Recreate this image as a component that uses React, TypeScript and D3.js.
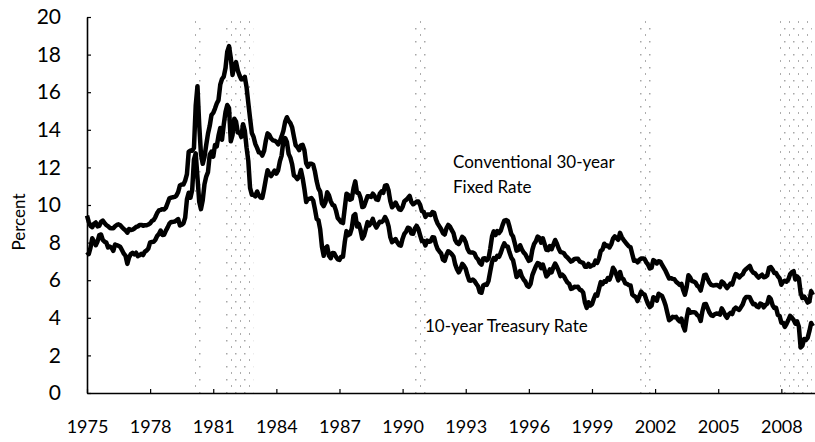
// App.tsx
import React, { useEffect, useRef } from "react";
import * as d3 from "d3";

// monthly averages, Jan 1975 .. Jul 2009
const startYear = 1975;

const mortgage30 = [
  9.43, 9.10, 8.89, 8.82, 9.00, 9.07, 8.86, 8.89, 9.10, 9.17, 9.04, 8.94,
  8.87, 8.78, 8.76, 8.76, 8.87, 8.94, 8.97, 8.92, 8.82, 8.72, 8.65, 8.53,
  8.72, 8.67, 8.69, 8.75, 8.83, 8.86, 8.94, 8.94, 8.90, 8.92, 8.92, 8.96,
  9.02, 9.15, 9.20, 9.36, 9.57, 9.71, 9.74, 9.78, 9.76, 9.86, 10.11, 10.35,
  10.39, 10.41, 10.43, 10.50, 10.69, 11.04, 11.09, 11.09, 11.30, 11.64, 12.83, 12.90,
  12.88, 13.04, 15.28, 16.32, 14.26, 12.71, 12.19, 12.56, 13.20, 13.79, 14.21, 14.79,
  14.90, 15.13, 15.40, 15.58, 16.40, 16.70, 16.83, 17.29, 18.16, 18.45, 17.83, 16.92,
  17.40, 17.60, 17.16, 16.89, 16.68, 16.70, 16.82, 16.27, 15.43, 14.61, 13.83, 13.62,
  13.25, 13.04, 12.80, 12.78, 12.63, 12.87, 13.42, 13.81, 13.73, 13.54, 13.44, 13.42,
  13.37, 13.23, 13.39, 13.65, 13.94, 14.42, 14.67, 14.47, 14.35, 14.13, 13.64, 13.18,
  13.08, 12.92, 13.17, 13.20, 12.91, 12.22, 12.03, 12.19, 12.19, 12.14, 11.78, 11.26,
  10.88, 10.71, 10.08, 9.94, 10.14, 10.68, 10.51, 10.20, 10.01, 9.97, 9.70, 9.31,
  9.20, 9.08, 9.04, 9.83, 10.60, 10.54, 10.28, 10.33, 10.89, 11.26, 10.65, 10.64,
  10.38, 9.89, 9.93, 10.20, 10.46, 10.46, 10.43, 10.60, 10.48, 10.30, 10.27, 10.61,
  10.73, 10.65, 11.03, 11.05, 10.77, 10.20, 9.88, 9.99, 10.13, 9.95, 9.77, 9.74,
  9.90, 10.20, 10.27, 10.37, 10.48, 10.16, 10.04, 10.10, 10.18, 10.18, 10.01, 9.67,
  9.64, 9.37, 9.50, 9.49, 9.47, 9.62, 9.58, 9.24, 9.01, 8.86, 8.71, 8.50,
  8.43, 8.76, 8.94, 8.85, 8.67, 8.51, 8.13, 7.98, 7.92, 8.09, 8.31, 8.22,
  8.02, 7.68, 7.50, 7.47, 7.47, 7.42, 7.21, 7.11, 6.92, 6.83, 7.16, 7.17,
  7.06, 7.15, 7.68, 8.32, 8.60, 8.40, 8.61, 8.51, 8.64, 8.93, 9.17, 9.20,
  9.15, 8.83, 8.46, 8.32, 7.96, 7.57, 7.61, 7.86, 7.64, 7.48, 7.38, 7.20,
  7.03, 7.08, 7.62, 7.93, 8.07, 8.32, 8.25, 8.00, 8.23, 7.92, 7.62, 7.60,
  7.82, 7.65, 7.90, 8.14, 7.94, 7.69, 7.50, 7.48, 7.43, 7.29, 7.21, 7.10,
  6.99, 7.04, 7.13, 7.14, 7.14, 7.00, 6.95, 6.92, 6.72, 6.71, 6.87, 6.72,
  6.79, 6.81, 7.04, 6.92, 7.15, 7.55, 7.63, 7.94, 7.82, 7.85, 7.74, 7.91,
  8.21, 8.33, 8.24, 8.15, 8.52, 8.29, 8.15, 8.03, 7.91, 7.80, 7.75, 7.38,
  7.03, 7.05, 6.95, 7.08, 7.15, 7.16, 7.13, 6.95, 6.82, 6.62, 6.66, 7.07,
  7.00, 6.89, 7.01, 6.99, 6.81, 6.65, 6.49, 6.29, 6.09, 6.11, 6.07, 6.05,
  5.92, 5.84, 5.75, 5.81, 5.48, 5.23, 5.63, 6.26, 6.15, 5.95, 5.93, 5.88,
  5.71, 5.64, 5.45, 5.83, 6.27, 6.29, 6.06, 5.87, 5.75, 5.72, 5.73, 5.75,
  5.71, 5.63, 5.93, 5.86, 5.72, 5.58, 5.70, 5.82, 5.77, 6.07, 6.33, 6.27,
  6.15, 6.25, 6.32, 6.51, 6.60, 6.68, 6.76, 6.52, 6.40, 6.36, 6.24, 6.14,
  6.22, 6.29, 6.16, 6.18, 6.26, 6.66, 6.70, 6.57, 6.38, 6.38, 6.21, 6.10,
  5.76, 5.92, 5.97, 5.92, 6.04, 6.32, 6.43, 6.48, 6.04, 6.20, 6.09, 5.33,
  5.05, 5.13, 5.00, 4.81, 4.86, 5.42, 5.22
];

const treasury10 = [
  7.50, 7.39, 7.73, 8.23, 8.06, 7.86, 8.06, 8.40, 8.43, 8.14, 8.05, 8.00,
  7.74, 7.79, 7.73, 7.56, 7.90, 7.86, 7.83, 7.77, 7.59, 7.41, 7.29, 6.87,
  7.21, 7.39, 7.46, 7.37, 7.46, 7.28, 7.33, 7.40, 7.34, 7.52, 7.58, 7.69,
  8.01, 8.03, 8.04, 8.15, 8.35, 8.46, 8.64, 8.41, 8.42, 8.64, 8.81, 9.01,
  9.10, 9.10, 9.12, 9.18, 9.25, 8.91, 8.95, 9.03, 9.33, 10.30, 10.65, 10.39,
  10.80, 12.41, 12.75, 11.47, 10.18, 9.78, 10.25, 11.10, 11.51, 11.75, 12.68, 12.84,
  12.57, 13.19, 13.12, 13.68, 14.10, 13.47, 14.28, 14.94, 15.32, 15.15, 13.39, 13.72,
  14.59, 14.43, 13.86, 13.87, 13.62, 14.30, 13.95, 13.06, 12.34, 10.91, 10.55, 10.54,
  10.46, 10.72, 10.51, 10.40, 10.38, 10.85, 11.38, 11.85, 11.65, 11.54, 11.69, 11.83,
  11.67, 11.84, 12.32, 12.63, 13.41, 13.56, 13.36, 12.72, 12.52, 12.16, 11.57, 11.50,
  11.38, 11.51, 11.86, 11.43, 10.85, 10.16, 10.31, 10.33, 10.37, 10.24, 9.78, 9.26,
  9.19, 8.70, 7.78, 7.30, 7.71, 7.80, 7.30, 7.17, 7.45, 7.43, 7.25, 7.11,
  7.08, 7.25, 7.25, 8.02, 8.61, 8.40, 8.45, 8.76, 9.42, 9.52, 8.86, 8.99,
  8.67, 8.21, 8.37, 8.72, 9.09, 8.92, 9.06, 9.26, 8.98, 8.80, 8.96, 9.11,
  9.09, 9.17, 9.36, 9.18, 8.86, 8.28, 8.02, 8.11, 8.19, 8.01, 7.87, 7.84,
  8.21, 8.47, 8.59, 8.79, 8.76, 8.48, 8.47, 8.75, 8.89, 8.72, 8.39, 8.08,
  8.09, 7.85, 8.11, 8.04, 8.07, 8.28, 8.27, 7.90, 7.65, 7.53, 7.42, 7.09,
  7.03, 7.34, 7.54, 7.48, 7.39, 7.26, 6.84, 6.59, 6.42, 6.59, 6.87, 6.77,
  6.60, 6.26, 5.98, 5.97, 6.04, 5.96, 5.81, 5.68, 5.36, 5.33, 5.72, 5.77,
  5.75, 5.97, 6.48, 6.97, 7.18, 7.10, 7.30, 7.24, 7.46, 7.74, 7.96, 7.81,
  7.78, 7.47, 7.20, 7.06, 6.63, 6.17, 6.28, 6.49, 6.20, 6.04, 5.93, 5.71,
  5.65, 5.81, 6.27, 6.51, 6.74, 6.91, 6.87, 6.64, 6.83, 6.53, 6.20, 6.30,
  6.58, 6.42, 6.69, 6.89, 6.71, 6.49, 6.22, 6.30, 6.21, 6.03, 5.88, 5.81,
  5.54, 5.57, 5.65, 5.64, 5.65, 5.50, 5.46, 5.34, 4.81, 4.53, 4.83, 4.65,
  4.72, 5.00, 5.23, 5.18, 5.54, 5.90, 5.79, 5.94, 5.92, 6.11, 6.03, 6.28,
  6.66, 6.52, 6.26, 5.99, 6.44, 6.10, 6.05, 5.83, 5.80, 5.74, 5.72, 5.24,
  5.16, 5.10, 4.89, 5.14, 5.39, 5.28, 5.24, 4.97, 4.73, 4.57, 4.65, 5.09,
  5.04, 4.91, 5.28, 5.21, 5.16, 4.93, 4.65, 4.26, 3.87, 3.94, 4.05, 4.03,
  4.05, 3.90, 3.81, 3.96, 3.57, 3.33, 3.98, 4.45, 4.27, 4.29, 4.30, 4.27,
  4.15, 4.08, 3.83, 4.35, 4.72, 4.73, 4.50, 4.28, 4.13, 4.10, 4.19, 4.23,
  4.22, 4.17, 4.50, 4.34, 4.14, 4.00, 4.18, 4.26, 4.20, 4.46, 4.54, 4.47,
  4.42, 4.57, 4.72, 4.99, 5.11, 5.11, 5.09, 4.88, 4.72, 4.73, 4.60, 4.56,
  4.76, 4.72, 4.56, 4.69, 4.75, 5.10, 5.00, 4.67, 4.52, 4.53, 4.15, 4.10,
  3.74, 3.74, 3.51, 3.68, 3.88, 4.10, 4.01, 3.89, 3.69, 3.81, 3.53, 2.42,
  2.52, 2.87, 2.82, 2.93, 3.29, 3.72, 3.56
];

// NBER recessions, [start, end] as year + month fraction
const recessions = [
  [1980.0, 1980.5],
  [1981.5, 1982.9],
  [1990.5, 1991.2],
  [2001.2, 2001.9],
  [2007.9, 2009.45]
];

const xTicks = [1975, 1978, 1981, 1984, 1987, 1990, 1993, 1996, 1999, 2002, 2005, 2008];
const yTicks = [0, 2, 4, 6, 8, 10, 12, 14, 16, 18, 20];

const W = 815;
const H = 442;
const FONT = "Lato, 'Open Sans', sans-serif";

const App = () => {
  const ref = useRef(null);

  useEffect(() => {
    const svg = d3.select(ref.current);
    svg.selectAll("*").remove();

    const x = d3.scaleLinear().domain([1975, 2009.6]).range([87, 815]);
    const y = d3.scaleLinear().domain([0, 20]).range([393, 17]);

    // sparse speckled fill for recession bars (scanned grey)
    const defs = svg.append("defs");
    const pat = defs
      .append("pattern")
      .attr("id", "speckle")
      .attr("patternUnits", "userSpaceOnUse")
      .attr("width", 9)
      .attr("height", 13);
    pat.append("rect").attr("x", 1).attr("y", 2).attr("width", 1.5).attr("height", 1.5).attr("fill", "#222");
    pat.append("rect").attr("x", 6).attr("y", 8).attr("width", 1).attr("height", 2).attr("fill", "#333");

    svg
      .append("g")
      .selectAll("rect")
      .data(recessions)
      .enter()
      .append("rect")
      .attr("x", d => x(d[0]))
      .attr("y", y(20))
      .attr("width", d => x(d[1]) - x(d[0]))
      .attr("height", y(0) - y(20))
      .attr("fill", "url(#speckle)")
      .attr("opacity", 0.4);

    // Y axis
    const yAxis = svg
      .append("g")
      .attr("transform", `translate(${x(1975)},0)`)
      .call(
        d3.axisLeft(y).tickValues(yTicks).tickSize(-4).tickSizeOuter(0).tickPadding(26).tickFormat(d3.format("d"))
      );
    yAxis.select(".domain").attr("stroke", "#000").attr("stroke-width", 1.6);
    yAxis.selectAll("line").attr("stroke", "#000").attr("stroke-width", 1.2);
    yAxis
      .selectAll("text")
      .style("font-family", FONT)
      .style("font-size", "21px")
      .attr("fill", "#000");

    // X axis
    const xAxis = svg
      .append("g")
      .attr("transform", `translate(0,${y(0)})`)
      .call(
        d3.axisBottom(x).tickValues(xTicks).tickSize(-4).tickSizeOuter(0).tickPadding(27).tickFormat(d3.format("d"))
      );
    xAxis.select(".domain").attr("stroke", "#000").attr("stroke-width", 1.6);
    xAxis.selectAll("line").attr("stroke", "#000").attr("stroke-width", 1.2);
    xAxis
      .selectAll("text")
      .style("font-family", FONT)
      .style("font-size", "18px")
      .attr("fill", "#000");

    // both rate lines
    const line = d3
      .line()
      .x((d, i) => x(startYear + i / 12))
      .y(d => y(d))
      .curve(d3.curveLinear);

    [mortgage30, treasury10].forEach(series => {
      svg
        .append("path")
        .datum(series)
        .attr("d", line)
        .attr("fill", "none")
        .attr("stroke", "#000")
        .attr("stroke-width", 4.5)
        .attr("stroke-linejoin", "round");
    });

    // y-axis title
    svg
      .append("text")
      .attr("transform", `translate(25,222) rotate(-90)`)
      .attr("text-anchor", "middle")
      .style("font-family", FONT)
      .style("font-size", "17px")
      .text("Percent");

    // series labels
    const labels = svg
      .append("g")
      .style("font-family", FONT)
      .style("font-size", "17px")
      .attr("fill", "#000");
    labels.append("text").attr("x", 453).attr("y", 168).text("Conventional 30-year");
    labels.append("text").attr("x", 453).attr("y", 193).text("Fixed Rate");
    labels.append("text").attr("x", 425).attr("y", 332).text("10-year Treasury Rate");
  }, []);

  return (
    <svg
      ref={ref}
      width={W}
      height={H}
      style={{ position: "absolute", left: 0, top: 0, background: "#fff" }}
    ></svg>
  );
};

export default App;
